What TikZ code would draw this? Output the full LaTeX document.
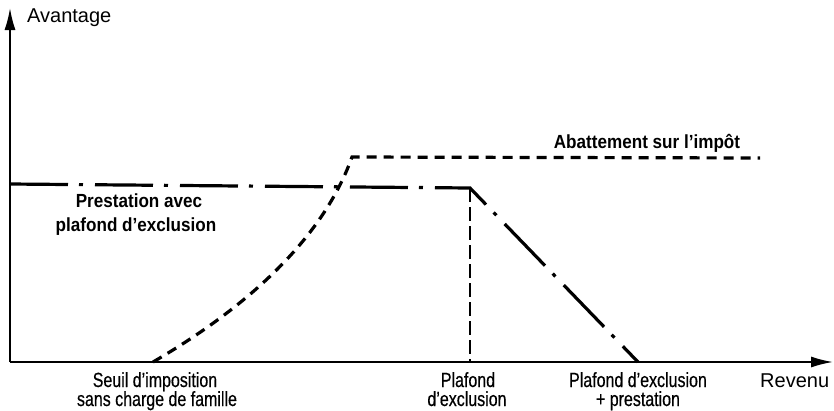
\documentclass[tikz,border=0pt]{standalone}
\usepackage{fontspec}
\setmainfont{Liberation Sans}
\newfontfamily\condfont[FakeStretch=0.78,FakeBold=0.4]{Liberation Sans}
\newfontfamily\condbfont[FakeStretch=0.9]{Liberation Sans Bold}
\usetikzlibrary{arrows.meta}
\begin{document}
\begin{tikzpicture}[x=1pt,y=-1pt,
  axis/.style={line width=1.8pt, -{Latex[length=22pt,width=11pt]}},
  taxline/.style={line width=3.2pt, dash pattern=on 10pt off 7pt},
  presline/.style={line width=3.2pt, dash pattern=on 58pt off 11pt on 4pt off 12pt},
  guide/.style={line width=1.3pt, dash pattern=on 14pt off 5pt},
  axlabel/.style={font=\fontsize{20}{24}\selectfont, inner sep=0, anchor=base west},
  ticklabel/.style={font=\condfont\fontsize{20.5}{24}\selectfont, inner sep=0, anchor=base},
  curvelabel/.style={font=\condbfont\fontsize{19}{22}\selectfont, inner sep=0, anchor=base}]
\useasboundingbox (0,0) rectangle (834,410);
% axes
\coordinate (O) at (10,362);
\coordinate (xend) at (833,362);
\coordinate (yend) at (10,8);
\draw[axis] (O) -- (xend);
\draw[axis] (O) -- (yend);
\node[axlabel] (avantage) at (27,22) {Avantage};
\node[axlabel] (revenu) at (760,387) {Revenu};
% key points
\coordinate (pstart) at (10,184);
\coordinate (pcorner) at (470,188);
\coordinate (pend) at (638,362);
\coordinate (tstart) at (153,362);
\coordinate (ttop) at (352,157);
\coordinate (tend) at (760,158);
\coordinate (gfoot) at (470,362);
% curves
\draw[presline] (pstart) -- (pcorner) -- (pend);
\draw[taxline] (tstart) .. controls (225,320) and (318,252) .. (ttop) -- (tend);
\draw[guide] (pcorner) -- (gfoot);
% curve labels
\node[curvelabel] (abat) at (647,148) {Abattement sur l’impôt};
\node[curvelabel] (pres1) at (139,207) {Prestation avec};
\node[curvelabel] (pres2) at (136,231) {plafond d’exclusion};
% tick labels
\node[ticklabel] (seuil1) at (155,387) {Seuil d’imposition};
\node[ticklabel] (seuil2) at (157,406) {sans charge de famille};
\node[ticklabel] (plaf1) at (468,387) {Plafond};
\node[ticklabel] (plaf2) at (467,406) {d’exclusion};
\node[ticklabel] (pp1) at (638,387) {Plafond d’exclusion};
\node[ticklabel] (pp2) at (638,406) {+ prestation};
\end{tikzpicture}
\end{document}
